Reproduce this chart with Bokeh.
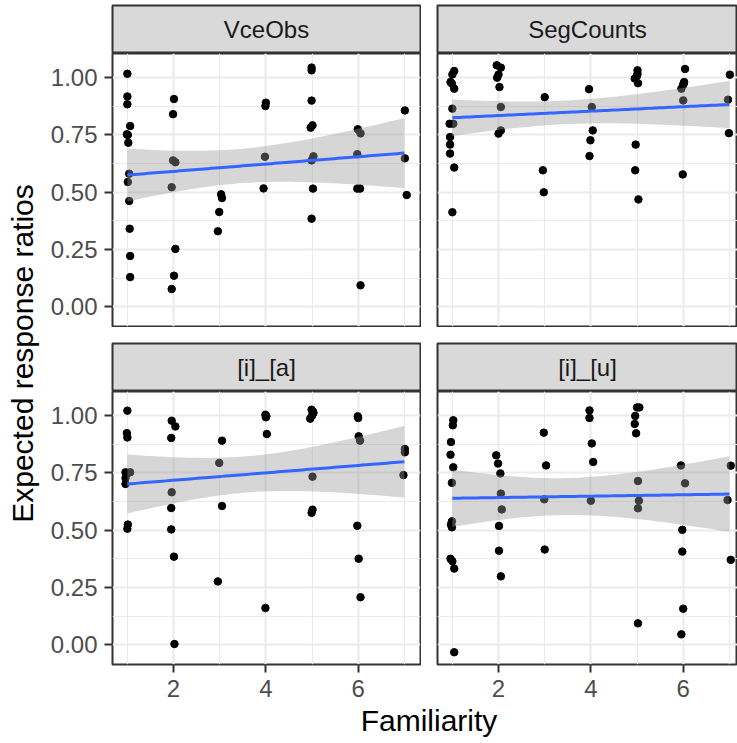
import numpy as np
from bokeh.plotting import figure
from bokeh.layouts import row, column
from bokeh.models import Range1d, FixedTicker, Label, Grid, NumeralTickFormatter
from bokeh.embed import file_html
from bokeh.resources import INLINE

# ---------------- data ----------------
panel_names = ["VceObs", "SegCounts", "[i]_[a]", "[i]_[u]"]

vce_x = [1.00, 1.00, 1.00, 1.06, 0.99, 1.01, 1.02, 1.04, 1.01, 1.04, 1.05, 1.06, 1.06,
         2.01, 1.99, 1.99, 2.04, 1.96, 2.04, 2.01, 1.96,
         3.03, 3.05, 2.99, 2.96,
         4.00, 3.99, 3.98, 3.95,
         4.99, 4.99, 4.99, 5.01, 4.97, 5.03, 4.99, 5.02, 4.99,
         5.99, 6.05, 5.98, 5.98, 6.04, 6.05,
         7.01, 7.01, 7.05]
vce_y = [1.017, 0.918, 0.884, 0.789, 0.753, 0.750, 0.716, 0.581, 0.545, 0.462, 0.341, 0.222, 0.130,
         0.907, 0.841, 0.639, 0.631, 0.522, 0.253, 0.136, 0.078,
         0.491, 0.475, 0.414, 0.330,
         0.891, 0.876, 0.655, 0.517,
         1.044, 1.032, 0.900, 0.792, 0.782, 0.657, 0.639, 0.516, 0.385,
         0.775, 0.757, 0.666, 0.516, 0.516, 0.094,
         0.857, 0.648, 0.488]

seg_x = [1.04, 1.00, 0.96, 0.99, 1.04, 1.00, 0.94, 1.02, 0.95, 0.95, 0.95, 1.04, 1.00,
         1.96, 2.05, 2.00, 1.97, 2.02, 2.05, 2.05, 2.00,
         3.00, 2.96, 2.98,
         3.96, 4.02, 4.04, 3.99, 3.97,
         5.01, 5.01, 4.95, 5.02, 5.00, 4.97, 4.96, 5.03,
         6.04, 6.02, 6.00, 6.01, 5.96, 6.00, 5.99,
         7.01, 6.97, 6.99]
seg_y = [1.029, 1.014, 0.981, 0.974, 0.952, 0.865, 0.799, 0.799, 0.741, 0.708, 0.669, 0.608, 0.413,
         1.054, 1.044, 1.014, 1.000, 0.959, 0.872, 0.770, 0.756,
         0.915, 0.596, 0.500,
         0.950, 0.872, 0.770, 0.727, 0.658,
         1.032, 1.017, 0.996, 0.976, 1.008, 0.708, 0.596, 0.469,
         1.038, 0.981, 0.969, 0.975, 0.952, 0.901, 0.578,
         1.013, 0.904, 0.758]

ia_x = [1.00, 0.99, 1.00, 0.96, 1.06, 0.98, 0.96, 0.96, 1.01, 1.00,
        1.96, 2.04, 1.95, 1.96, 1.95, 1.95, 2.01, 2.02,
        3.05, 2.99, 3.05, 2.96,
        3.99, 4.00, 4.01, 4.02, 3.99,
        4.99, 5.03, 4.96, 5.00, 5.02, 5.01, 5.01, 4.99,
        5.99, 6.00, 6.01, 6.04, 5.98, 6.01, 6.05,
        7.01, 7.01, 6.98]
ia_y = [1.022, 0.924, 0.905, 0.753, 0.753, 0.745, 0.728, 0.702, 0.525, 0.507,
        0.978, 0.953, 0.903, 0.666, 0.597, 0.504, 0.385, 0.004,
        0.891, 0.794, 0.606, 0.277,
        1.004, 0.993, 0.998, 0.920, 0.161,
        1.026, 1.012, 0.987, 1.000, 1.018, 0.734, 0.590, 0.576,
        0.997, 0.990, 0.910, 0.891, 0.520, 0.376, 0.208,
        0.855, 0.840, 0.741]

iu_x = [1.02, 1.01, 0.97, 0.96, 1.02, 0.99, 0.99, 0.97, 0.99, 0.96, 1.00, 1.04, 1.04,
        1.95, 1.99, 2.04, 2.05, 2.07, 2.01, 2.01, 2.05,
        2.98, 3.03, 2.99, 3.00,
        3.97, 3.97, 4.02, 4.05, 4.00,
        5.00, 5.05, 4.96, 4.95, 4.98, 5.02, 5.04, 5.02, 5.02,
        5.95, 6.04, 5.98, 5.98, 6.00, 5.96,
        7.03, 6.96, 7.03]
iu_y = [0.980, 0.958, 0.885, 0.830, 0.775, 0.707, 0.539, 0.525, 0.513, 0.376, 0.365, 0.333, -0.032,
        0.827, 0.791, 0.748, 0.660, 0.591, 0.519, 0.411, 0.299,
        0.926, 0.783, 0.635, 0.416,
        1.023, 0.990, 0.879, 0.798, 0.629,
        1.036, 1.036, 0.999, 0.964, 0.923, 0.715, 0.629, 0.596, 0.094,
        0.783, 0.705, 0.502, 0.407, 0.158, 0.046,
        0.782, 0.632, 0.371]

x_ticks = [2, 4, 6]
x_minor = [1, 3, 5, 7]
y_ticks = [0.0, 0.25, 0.5, 0.75, 1.0]
y_minor = [0.125, 0.375, 0.625, 0.875]

x_title = "Familiarity"
y_title = "Expected response ratios"

# ---------------- styling ----------------
FONT = "Liberation Sans"
X_START = 0.678
PX_PER_X = 46.17
Y_START, Y_END = -0.0855, 1.1055
FRAME_H = 273
BORDER = "#333333"
GRID = "#EBEBEB"


def t975(df):
    z = 1.959964
    return z + (z**3 + z) / (4 * df) + (5 * z**5 + 16 * z**3 + 3 * z) / (96 * df**2)


def smooth(xs, ys):
    x = np.round(np.asarray(xs, dtype=float))
    y = np.asarray(ys, dtype=float)
    n = len(x)
    xb = x.mean()
    sxx = ((x - xb) ** 2).sum()
    b = ((x - xb) * (y - y.mean())).sum() / sxx
    a = y.mean() - b * xb
    resid = y - (a + b * x)
    s = np.sqrt((resid ** 2).sum() / (n - 2))
    xg = np.linspace(x.min(), x.max(), 80)
    fit = a + b * xg
    se = s * np.sqrt(1.0 / n + (xg - xb) ** 2 / sxx)
    t = t975(n - 2)
    return xg, fit, fit - t * se, fit + t * se


def make_panel(xs, ys, fw, mbl, mbr, mbb, left_axis, bottom_axis):
    p = figure(frame_width=fw, frame_height=FRAME_H,
               x_range=Range1d(X_START, X_START + fw / PX_PER_X),
               y_range=Range1d(Y_START, Y_END),
               x_axis_location="below" if bottom_axis else None,
               y_axis_location="left" if left_axis else None,
               min_border_left=mbl, min_border_right=mbr,
               min_border_top=0, min_border_bottom=mbb,
               toolbar_location=None, output_backend="svg", title=None)
    p.grid.visible = False
    p.background_fill_color = "white"
    p.border_fill_color = "white"
    p.outline_line_color = BORDER
    p.outline_line_width = 2
    p.add_layout(Grid(dimension=0, ticker=FixedTicker(ticks=x_ticks, minor_ticks=x_minor),
                      grid_line_color=GRID, grid_line_width=2.2,
                      minor_grid_line_color=GRID, minor_grid_line_width=1.1))
    p.add_layout(Grid(dimension=1, ticker=FixedTicker(ticks=y_ticks, minor_ticks=y_minor),
                      grid_line_color=GRID, grid_line_width=2.2,
                      minor_grid_line_color=GRID, minor_grid_line_width=1.1))
    axes = []
    if left_axis:
        ax = p.yaxis[0]
        ax.ticker = FixedTicker(ticks=y_ticks)
        ax.formatter = NumeralTickFormatter(format="0.00")
        ax.major_label_standoff = 7
        axes.append(ax)
    if bottom_axis:
        ax = p.xaxis[0]
        ax.ticker = FixedTicker(ticks=x_ticks)
        ax.major_label_standoff = 7
        axes.append(ax)
    for ax in axes:
        ax.axis_line_color = None
        ax.major_tick_line_color = BORDER
        ax.major_tick_line_width = 2
        ax.major_tick_out = 8
        ax.major_tick_in = 0
        ax.minor_tick_line_color = None
        ax.major_label_text_font = FONT
        ax.major_label_text_font_size = "24px"
        ax.major_label_text_color = "#4D4D4D"

    p.scatter(xs, ys, size=7.5, color="black")
    xg, fit, lo, hi = smooth(xs, ys)
    p.varea(x=xg, y1=lo, y2=hi, fill_color="#999999", fill_alpha=0.4)
    p.line(xg, fit, line_color="#3366FF", line_width=3)
    return p


def make_strip(text, fw, mbl, mbr, mbt, fh):
    s = figure(frame_width=fw, frame_height=fh,
               x_range=Range1d(0, 1), y_range=Range1d(0, 1),
               x_axis_location=None, y_axis_location=None,
               min_border_left=mbl, min_border_right=mbr,
               min_border_top=mbt, min_border_bottom=0,
               toolbar_location=None, output_backend="svg", title=None)
    s.grid.visible = False
    s.background_fill_color = "#D9D9D9"
    s.border_fill_color = "white"
    s.outline_line_color = BORDER
    s.outline_line_width = 2
    s.add_layout(Label(x=0.5, y=0.5, text=text, text_align="center", text_baseline="middle",
                       text_font=FONT, text_font_size="24px", text_color="#1A1A1A"))
    return s


LW, RW = 308, 300          # frame widths
LB, LR = 68, 1             # left column borders
RB, RR = 16, 0             # right column borders
MBB = 44                   # bottom axis border

s_tl = make_strip(panel_names[0], LW, LB, LR, 5, 48)
s_tr = make_strip(panel_names[1], RW, RB, RR, 5, 48)
p_tl = make_panel(vce_x, vce_y, LW, LB, LR, 1, True, False)
p_tr = make_panel(seg_x, seg_y, RW, RB, RR, 1, False, False)
s_bl = make_strip(panel_names[2], LW, LB, LR, 16, 48)
s_br = make_strip(panel_names[3], RW, RB, RR, 16, 48)
p_bl = make_panel(ia_x, ia_y, LW, LB, LR, MBB, True, True)
p_br = make_panel(iu_x, iu_y, RW, RB, RR, MBB, False, True)

panels = column(row(s_tl, s_tr), row(p_tl, p_tr), row(s_bl, s_br), row(p_bl, p_br))

PAGE_W, PAGE_H = 737, 743
YL_W = 44
PANELS_H = 53 + 274 + 64 + FRAME_H + MBB
OVERLAP = 10


def blank(w, h, x0, y0, fill="white"):
    f = figure(width=w, height=h, x_range=Range1d(x0, x0 + w), y_range=Range1d(y0 + h, y0),
               x_axis_location=None, y_axis_location=None,
               min_border_left=0, min_border_right=0, min_border_top=0, min_border_bottom=0,
               toolbar_location=None, output_backend="svg", title=None)
    f.grid.visible = False
    f.outline_line_color = None
    f.background_fill_color = fill
    f.border_fill_color = fill
    return f


ylab = blank(YL_W, PAGE_H, 0, 0)
ylab.add_layout(Label(x=22, y=353, text=y_title, angle=np.pi / 2, text_align="center",
                      text_baseline="middle", text_font=FONT, text_font_size="30px",
                      text_color="black"))
XL_H = PAGE_H - PANELS_H + OVERLAP
xlab = blank(PAGE_W - YL_W, XL_H, YL_W, PANELS_H - OVERLAP, fill=None)
xlab.margin = (-OVERLAP, 0, 0, 0)
xlab.add_layout(Label(x=428.5, y=720, text=x_title, text_align="center",
                      text_baseline="middle", text_font=FONT, text_font_size="30px",
                      text_color="black"))

layout = row(ylab, column(panels, xlab))

open("out.html", "w").write(file_html(layout, INLINE))
